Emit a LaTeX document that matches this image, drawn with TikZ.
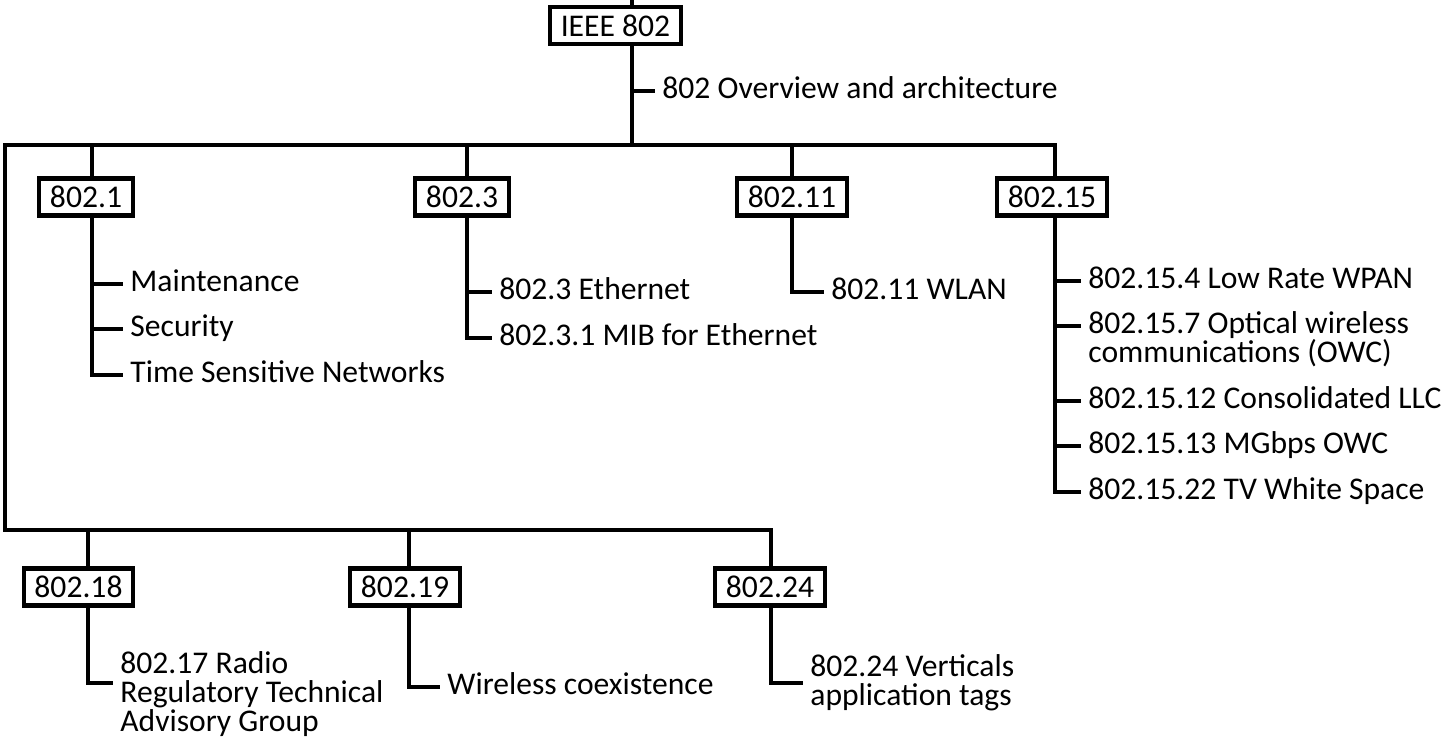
\documentclass[tikz,border=0pt]{standalone}
\usepackage{fontspec}
\setmainfont{Carlito}
\usetikzlibrary{positioning}

\begin{document}
\begin{tikzpicture}[x=0.5pt, y=-0.5pt,
        every node/.style={font=\fontsize{15.8pt}{14.5pt}\selectfont},
        group/.style={draw, line width=2.1pt, inner xsep=5.4pt, inner ysep=0pt, minimum height=18.5pt},
        item/.style={anchor=base west, inner xsep=3.5pt, inner ysep=0pt, align=left},
        wire/.style={line width=2.4pt},
        twig/.style={line width=2.2pt}
    ]
    \useasboundingbox (0,0) rectangle (1448,740);

    % The Root
    \node[group] (ieee) at (615.5,25.5) {IEEE 802};
    \coordinate (root) at (632,145);
    \node[item] (over) at (655,98) {802 Overview and architecture};
    \draw[twig] (ieee.north -| root) -- ++(0,-6);
    \draw[wire] (ieee.south -| root) -- (root);
    \draw[twig] ([yshift=3.5pt]over.base west -| root) -- ([yshift=3.5pt]over.base west);

    % The Bus
    \coordinate (tl) at (5,145);
    \coordinate (s15) at (1055,145);
    \coordinate (bl) at (5,530);
    \coordinate (s24) at (771,530);

    % Top groups
    \coordinate (s1) at (92,145);
    \coordinate (s3) at (467,145);
    \coordinate (s11) at (792,145);
    \node[group] (g1) at (86,197) {802.1};
    \node[group] (g3) at (462,197) {802.3};
    \node[group] (g11) at (792,197) {802.11};
    \node[group] (g15) at (1052,197) {802.15};

    % Bottom groups
    \coordinate (s18) at (88,530);
    \coordinate (s19) at (409,530);
    \node[group] (g18) at (78.5,587) {802.18};
    \node[group] (g19) at (405,587) {802.19};
    \node[group] (g24) at (770,587) {802.24};

    \draw[wire] (s15 |- g15.north) -- (s15) -- (tl) -- (bl) -- (s24) -- (s24 |- g24.north);
    \foreach \s/\g in {s1/g1, s3/g3, s11/g11, s18/g18, s19/g19}
        \draw[wire] (\s) -- (\s |- \g.north);

    % 802.1 items
    \node[item] (g1a) at (123,291) {Maintenance};
    \node[item] (g1b) at (123,336) {Security};
    \node[item] (g1c) at (123,382) {Time Sensitive Networks};
    \draw[wire] (g1.south -| s1) |- ([yshift=3.5pt]g1c.base west);
    \foreach \n in {g1a, g1b}
        \draw[twig] ([yshift=3.5pt]\n.base west -| s1) -- ([yshift=3.5pt]\n.base west);

    % 802.3 items
    \node[item] (g3a) at (492,299) {802.3 Ethernet};
    \node[item] (g3b) at (492,345) {802.3.1 MIB for Ethernet};
    \draw[wire] (g3.south -| s3) |- ([yshift=3.5pt]g3b.base west);
    \draw[twig] ([yshift=3.5pt]g3a.base west -| s3) -- ([yshift=3.5pt]g3a.base west);

    % 802.11 items
    \node[item] (g11a) at (824,299) {802.11 WLAN};
    \draw[wire] (g11.south -| s11) |- ([yshift=3.5pt]g11a.base west);

    % 802.15 items (two-line item: base is its last line)
    \node[item] (g15a) at (1081,288) {802.15.4 Low Rate WPAN};
    \node[item] (g15b) at (1081,362) {802.15.7 Optical wireless\\communications (OWC)};
    \node[item] (g15c) at (1081,408) {802.15.12 Consolidated LLC};
    \node[item] (g15d) at (1081,453) {802.15.13 MGbps OWC};
    \node[item] (g15e) at (1081,499) {802.15.22 TV White Space};
    \draw[wire] (g15.south -| s15) |- ([yshift=3.5pt]g15e.base west);
    \foreach \n/\dy in {g15a/3.5pt, g15b/18pt, g15c/3.5pt, g15d/3.5pt}
        \draw[twig] ([yshift=\dy]\n.base west -| s15) -- ([yshift=\dy]\n.base west);

    % Bottom items
    \node[item] (g18a) at (113,731) {802.17 Radio\\Regulatory Technical\\Advisory Group};
    \node[item] (g19a) at (440,694) {Wireless coexistence};
    \node[item] (g24a) at (803,705) {802.24 Verticals\\application tags};
    \draw[wire] (g18.south -| s18) |- ([yshift=24pt]g18a.base west);
    \draw[wire] (g19.south -| s19) |- ([yshift=3.5pt]g19a.base west);
    \draw[wire] (g24.south -| s24) |- ([yshift=11pt]g24a.base west);

\end{tikzpicture}
\end{document}
